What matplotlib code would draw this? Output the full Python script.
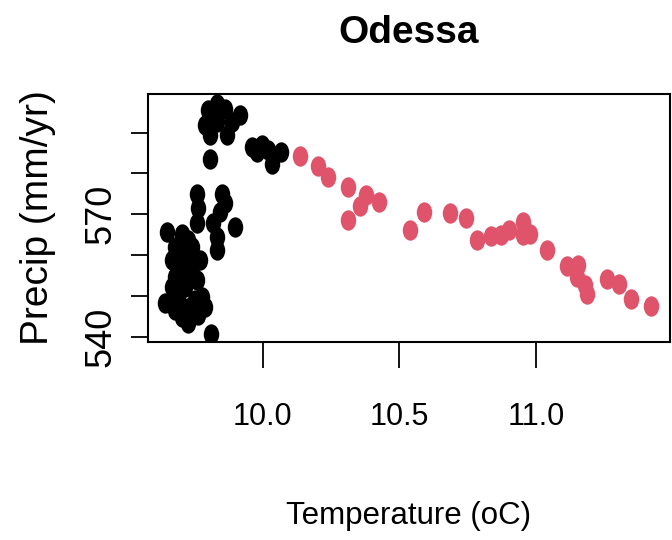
#Imports
import numpy as np
import matplotlib.pyplot as plt
from matplotlib.path import Path
from matplotlib.transforms import Affine2D

#Data: temperature (oC) and precipitation (mm/yr)
temp_black = [9.832, 9.801, 9.862, 9.917, 9.789, 9.832, 9.868, 9.807, 9.887, 9.807,
              9.960, 9.996, 10.020, 10.033, 10.069, 9.978,
              9.759, 9.764, 9.759, 9.850, 9.862, 9.844, 9.819, 9.899, 9.832, 9.832,
              9.649, 9.704, 9.728, 9.679, 9.667, 9.716, 9.771, 9.679, 9.728, 9.759,
              9.667, 9.716, 9.643, 9.691, 9.777, 9.789, 9.679, 9.728, 9.728, 9.764,
              9.813, 9.704, 9.752, 9.740, 9.691, 9.740]
precip_black = [597.1, 595.5, 595.9, 594.3, 591.8, 592.6, 589.4, 589.4, 592.6, 583.6,
                586.5, 586.9, 585.7, 582.4, 585.3, 585.3,
                575.1, 571.5, 567.8, 575.1, 572.7, 570.6, 567.8, 567.0, 564.5, 561.3,
                565.7, 565.3, 563.7, 562.1, 558.8, 559.6, 558.8, 554.7, 555.5, 553.9,
                552.3, 552.3, 548.2, 549.8, 549.8, 547.4, 546.5, 547.0, 543.3, 545.3,
                540.8, 544.9, 549.0, 562.1, 557.2, 557.2]

temp_red = [10.136, 10.203, 10.240, 10.311, 10.313, 10.356, 10.378, 10.426, 10.539, 10.590,
            10.685, 10.744, 10.785, 10.834, 10.871, 10.902, 10.953, 10.953, 10.978, 11.039,
            11.114, 11.154, 11.151, 11.179, 11.187, 11.258, 11.302, 11.346, 11.420]
precip_red = [584.3, 581.8, 579.1, 576.8, 568.6, 572.0, 574.7, 573.0, 566.2, 570.6,
              570.4, 569.0, 563.7, 564.7, 564.9, 566.2, 568.2, 564.9, 565.3, 561.3,
              557.3, 557.6, 554.7, 552.7, 550.6, 554.1, 552.9, 549.2, 547.6]

#Axis ticks
xticks = [10.0, 10.5, 11.0]
yticks = [540, 550, 560, 570, 580, 590]
ylabels = ['540', '', '', '570', '', '']

#Fonts
font = ['Liberation Sans', 'DejaVu Sans']

#Slightly tall dots
dot = Path.unit_circle().transformed(Affine2D().scale(0.76, 1.0))

fig = plt.figure(figsize=(6.72, 5.4), dpi=100)
ax = fig.add_axes([0.2195, 0.3672, 0.7775, 0.4582])

ax.scatter(temp_black, precip_black, s=215, marker=dot, color='black', linewidths=0, zorder=2)
ax.scatter(temp_red, precip_red, s=215, marker=dot, color='#DF536B', linewidths=0, zorder=3)

ax.set_xlim(9.579, 11.490)
ax.set_ylim(538.8, 599.4)

ax.set_xticks(xticks)
ax.set_xticklabels([f'{t:.1f}' for t in xticks], family=font, fontsize=22)
ax.set_yticks(yticks)
ax.set_yticklabels(ylabels, family=font, fontsize=26, rotation=90, va='center')

ax.tick_params(axis='x', length=18.5, width=1.3, pad=25)
ax.tick_params(axis='y', length=12, width=1.3, pad=9)
for s in ax.spines.values():
    s.set_linewidth(1.5)

ax.set_title('Odessa', family=font, fontsize=28, fontweight='bold', pad=37)
ax.set_xlabel('Temperature (oC)', family=font, fontsize=22.5)
ax.xaxis.set_label_coords(0.5, -0.645)
ax.set_ylabel('Precip (mm/yr)', family=font, fontsize=28)
ax.yaxis.set_label_coords(-0.175, 0.5)

fig.savefig('out.png', dpi=100)
